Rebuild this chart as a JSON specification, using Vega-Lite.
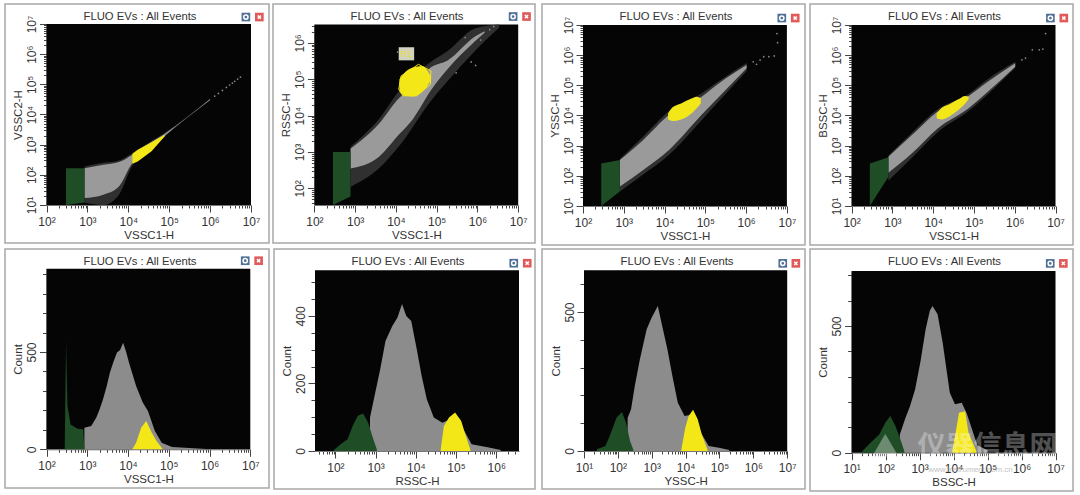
{"$schema":"https://vega.github.io/schema/vega-lite/v6.json","background":"white","padding":{"left":4,"top":3,"right":0,"bottom":0},"spacing":2,"config":{"view":{"stroke":"#a8a8a8","strokeWidth":1.5},"title":{"font":"Liberation Sans","fontSize":11.3,"fontWeight":"normal","color":"#333333","anchor":"middle","offset":-18},"axis":{"labelFont":"Liberation Sans","titleFont":"Liberation Sans","labelFontSize":12,"titleFontSize":11.5,"titleFontWeight":"normal","labelColor":"#333333","titleColor":"#333333","tickColor":"#444444","domainColor":"#777777","grid":false,"labelOverlap":false,"labelFlush":false,"labelPadding":4,"titlePadding":2},"axisY":{"labelAngle":-90,"labelAlign":"center","labelBaseline":"bottom","labelPadding":1,"titlePadding":2}},"vconcat":[{"spacing":5,"hconcat":[{"spacing":2,"hconcat":[
{"width":264,"height":239,"title":{"text":"FLUO EVs : All Events","dx":3},"data":{"values":[{"kind":"bg","x":100,"x2":10000000,"y":10,"y2":10000000},{"kind":"fuzz","x":850,"y":12,"y2":190},{"kind":"fuzz","x":2440,"y":10,"y2":250},{"kind":"fuzz","x":5900,"y":22,"y2":300},{"kind":"fuzz","x":12600,"y":200,"y2":520},{"kind":"fuzz","x":25000,"y":450,"y2":950},{"kind":"fuzz","x":72000,"y":1700,"y2":2300},{"kind":"fuzz","x":1000000,"y":30000,"y2":33000},{"kind":"gray","x":850,"y":17,"y2":166},{"kind":"gray","x":2450,"y":22,"y2":215},{"kind":"gray","x":5900,"y":41,"y2":265},{"kind":"gray","x":12600,"y":245,"y2":466},{"kind":"gray","x":25000,"y":500,"y2":880},{"kind":"gray","x":72000,"y":1800,"y2":2150},{"kind":"gray","x":1000000,"y":30500,"y2":32500},{"kind":"green","x":300,"y":10,"y2":166},{"kind":"green","x":850,"y":12,"y2":166},{"kind":"yellow","x":12600,"y":235,"y2":500},{"kind":"yellow","x":17000,"y":278,"y2":680},{"kind":"yellow","x":37000,"y":600,"y2":1200},{"kind":"yellow","x":78000,"y":1900,"y2":2150},{"kind":"dot","x":1300000,"y":41000},{"kind":"dot","x":1600000,"y":50000},{"kind":"dot","x":2000000,"y":63000},{"kind":"dot","x":2500000,"y":79000},{"kind":"dot","x":3000000,"y":95000},{"kind":"dot","x":3500000,"y":110000},{"kind":"dot","x":4000000,"y":126000},{"kind":"dot","x":4700000,"y":150000},{"kind":"dot","x":5500000,"y":174000},{"kind":"iconB","x":7500000,"y":17000000},{"kind":"iconR","x":16000000,"y":17000000}]},"encoding":{"x":{"field":"x","type":"quantitative","title":"VSSC1-H","scale":{"type":"log","domain":[100,10000000],"range":[41.5,246],"nice":false},"axis":{"offset":-38,"tickCount":60,"labelExpr":"abs(log(datum.value)/LN10-round(log(datum.value)/LN10))<0.001?'10'+['⁰','¹','²','³','⁴','⁵','⁶','⁷'][round(log(datum.value)/LN10)]:''","tickSize":{"condition":{"test":"abs(log(datum.value)/LN10-round(log(datum.value)/LN10))<0.001","value":7},"value":3}}},"y":{"field":"y","type":"quantitative","stack":null,"title":"VSSC2-H","scale":{"type":"log","domain":[10,10000000],"range":[201,20],"nice":false},"axis":{"offset":-41.5,"tickCount":60,"labelExpr":"abs(log(datum.value)/LN10-round(log(datum.value)/LN10))<0.001?'10'+['⁰','¹','²','³','⁴','⁵','⁶','⁷'][round(log(datum.value)/LN10)]:''","tickSize":{"condition":{"test":"abs(log(datum.value)/LN10-round(log(datum.value)/LN10))<0.001","value":7},"value":3}}}},"layer":[{"transform":[{"filter":"datum.kind=='bg'"}],"mark":{"type":"rect","color":"#050505"},"encoding":{"x2":{"field":"x2"},"y2":{"field":"y2"}}},{"transform":[{"filter":"datum.kind=='fuzz'"}],"mark":{"type":"area","orient":"vertical","interpolate":"monotone","color":"#303030"},"encoding":{"y2":{"field":"y2"}}},{"transform":[{"filter":"datum.kind=='gray'"}],"mark":{"type":"area","orient":"vertical","interpolate":"monotone","color":"#9a9a9a"},"encoding":{"y2":{"field":"y2"}}},{"transform":[{"filter":"datum.kind=='green'"}],"mark":{"type":"area","orient":"vertical","color":"#1e4d26"},"encoding":{"y2":{"field":"y2"}}},{"transform":[{"filter":"datum.kind=='yellow'"}],"mark":{"type":"area","orient":"vertical","color":"#f4e718"},"encoding":{"y2":{"field":"y2"}}},{"transform":[{"filter":"datum.kind=='dot'"}],"mark":{"type":"point","filled":true,"size":3,"color":"#8a8a8a","opacity":1}},{"transform":[{"filter":"datum.kind=='iconB'"}],"mark":{"type":"point","shape":"square","filled":true,"size":75,"color":"#4f6f96","opacity":1}},{"transform":[{"filter":"datum.kind=='iconB'"}],"mark":{"type":"point","shape":"circle","filled":false,"size":18,"color":"white","strokeWidth":1.5,"opacity":1}},{"transform":[{"filter":"datum.kind=='iconR'"}],"mark":{"type":"point","shape":"square","filled":true,"size":75,"color":"#e05a5a","opacity":1}},{"transform":[{"filter":"datum.kind=='iconR'"}],"mark":{"type":"point","shape":"M-1,-1L1,1M-1,1L1,-1","filled":false,"size":10,"color":"white","strokeWidth":1.5,"opacity":1}}]},
{"width":262,"height":239,"title":{"text":"FLUO EVs : All Events","dx":3},"data":{"values":[{"kind":"bg","x":100,"x2":10000000,"y":35,"y2":3200000},{"kind":"fuzz","x":770,"y":110,"y2":1400},{"kind":"fuzz","x":3800,"y":350,"y2":8000},{"kind":"fuzz","x":12300,"y":1500,"y2":50000},{"kind":"fuzz","x":71000,"y":25000,"y2":300000},{"kind":"fuzz","x":186000,"y":90000,"y2":600000},{"kind":"fuzz","x":870000,"y":600000,"y2":2500000},{"kind":"fuzz","x":3400000,"y":2600000,"y2":3200000},{"kind":"gray","x":770,"y":350,"y2":1230},{"kind":"gray","x":3800,"y":730,"y2":5900},{"kind":"gray","x":12300,"y":3160,"y2":31600},{"kind":"gray","x":26000,"y":8000,"y2":60000},{"kind":"gray","x":71000,"y":48000,"y2":210000},{"kind":"gray","x":186000,"y":190000,"y2":330000},{"kind":"gray","x":870000,"y":1100000,"y2":1500000},{"kind":"gray","x":1500000,"y":1900000,"y2":2100000},{"kind":"green","x":286,"y":35,"y2":1000},{"kind":"green","x":770,"y":60,"y2":1000},{"kind":"yellow","x":12200,"y":48000,"y2":100000},{"kind":"yellow","x":16300,"y":35000,"y2":151000},{"kind":"yellow","x":26500,"y":33700,"y2":209000},{"kind":"yellow","x":43000,"y":43900,"y2":230000},{"kind":"yellow","x":57000,"y":62000,"y2":186000},{"kind":"yellow","x":70000,"y":89000,"y2":123000},{"kind":"gate","o":1,"x":13400,"y":123000},{"kind":"gate","o":2,"x":35700,"y":257000},{"kind":"gate","o":3,"x":72000,"y":170000},{"kind":"gate","o":4,"x":70000,"y":72000},{"kind":"gate","o":5,"x":32400,"y":35100},{"kind":"gate","o":6,"x":14800,"y":35100},{"kind":"gate","o":7,"x":11700,"y":53000},{"kind":"gate","o":8,"x":13400,"y":123000},{"kind":"box","x":11700,"x2":28000,"y":331000,"y2":759000},{"kind":"boxtext","x":18100,"y":500000,"label":"R1"},{"kind":"dot","x":2000000,"y":2300000},{"kind":"dot","x":2500000,"y":2800000},{"kind":"dot","x":1200000,"y":1200000},{"kind":"dot","x":500000,"y":1400000},{"kind":"dot","x":300000,"y":150000},{"kind":"dot","x":700000,"y":300000},{"kind":"dot","x":11000,"y":560000},{"kind":"dot","x":900000,"y":240000},{"kind":"iconB","x":7500000,"y":5300000},{"kind":"iconR","x":16000000,"y":5300000}]},"encoding":{"x":{"field":"x","type":"quantitative","title":"VSSC1-H","scale":{"type":"log","domain":[100,10000000],"range":[41.4,245.2],"nice":false},"axis":{"offset":-38,"tickCount":60,"labelExpr":"abs(log(datum.value)/LN10-round(log(datum.value)/LN10))<0.001?'10'+['⁰','¹','²','³','⁴','⁵','⁶','⁷'][round(log(datum.value)/LN10)]:''","tickSize":{"condition":{"test":"abs(log(datum.value)/LN10-round(log(datum.value)/LN10))<0.001","value":7},"value":3}}},"y":{"field":"y","type":"quantitative","stack":null,"title":"RSSC-H","scale":{"type":"log","domain":[35,3200000],"range":[201,20.5],"nice":false},"axis":{"offset":-41.4,"tickCount":60,"labelExpr":"abs(log(datum.value)/LN10-round(log(datum.value)/LN10))<0.001?'10'+['⁰','¹','²','³','⁴','⁵','⁶','⁷'][round(log(datum.value)/LN10)]:''","tickSize":{"condition":{"test":"abs(log(datum.value)/LN10-round(log(datum.value)/LN10))<0.001","value":7},"value":3}}}},"layer":[{"transform":[{"filter":"datum.kind=='bg'"}],"mark":{"type":"rect","color":"#050505"},"encoding":{"x2":{"field":"x2"},"y2":{"field":"y2"}}},{"transform":[{"filter":"datum.kind=='fuzz'"}],"mark":{"type":"area","orient":"vertical","interpolate":"monotone","color":"#303030"},"encoding":{"y2":{"field":"y2"}}},{"transform":[{"filter":"datum.kind=='gray'"}],"mark":{"type":"area","orient":"vertical","interpolate":"monotone","color":"#9a9a9a"},"encoding":{"y2":{"field":"y2"}}},{"transform":[{"filter":"datum.kind=='green'"}],"mark":{"type":"area","orient":"vertical","color":"#1e4d26"},"encoding":{"y2":{"field":"y2"}}},{"transform":[{"filter":"datum.kind=='yellow'"}],"mark":{"type":"area","orient":"vertical","interpolate":"monotone","color":"#f4e718"},"encoding":{"y2":{"field":"y2"}}},{"transform":[{"filter":"datum.kind=='gate'"}],"mark":{"type":"line","color":"#f4e718","strokeWidth":1},"encoding":{"order":{"field":"o"}}},{"transform":[{"filter":"datum.kind=='box'"}],"mark":{"type":"rect","color":"#d2d2c0"},"encoding":{"x2":{"field":"x2"},"y2":{"field":"y2"}}},{"transform":[{"filter":"datum.kind=='boxtext'"}],"mark":{"type":"text","color":"#e8e030","fontSize":9,"font":"Liberation Sans"},"encoding":{"text":{"field":"label"}}},{"transform":[{"filter":"datum.kind=='dot'"}],"mark":{"type":"point","filled":true,"size":3,"color":"#8a8a8a","opacity":1}},{"transform":[{"filter":"datum.kind=='iconB'"}],"mark":{"type":"point","shape":"square","filled":true,"size":75,"color":"#4f6f96","opacity":1}},{"transform":[{"filter":"datum.kind=='iconB'"}],"mark":{"type":"point","shape":"circle","filled":false,"size":18,"color":"white","strokeWidth":1.5,"opacity":1}},{"transform":[{"filter":"datum.kind=='iconR'"}],"mark":{"type":"point","shape":"square","filled":true,"size":75,"color":"#e05a5a","opacity":1}},{"transform":[{"filter":"datum.kind=='iconR'"}],"mark":{"type":"point","shape":"M-1,-1L1,1M-1,1L1,-1","filled":false,"size":10,"color":"white","strokeWidth":1.5,"opacity":1}}]}
]},{"spacing":3,"hconcat":[
{"width":263,"height":241,"title":{"text":"FLUO EVs : All Events","dx":2.5},"data":{"values":[{"kind":"bg","x":100,"x2":10000000,"y":10,"y2":10000000},{"kind":"fuzz","x":800,"y":30,"y2":360},{"kind":"fuzz","x":3000,"y":110,"y2":2000},{"kind":"fuzz","x":12900,"y":500,"y2":14000},{"kind":"fuzz","x":81000,"y":7000,"y2":55000},{"kind":"fuzz","x":217000,"y":30000,"y2":140000},{"kind":"fuzz","x":1030000,"y":300000,"y2":550000},{"kind":"gray","x":800,"y":44,"y2":335},{"kind":"gray","x":3000,"y":156,"y2":1550},{"kind":"gray","x":12900,"y":720,"y2":10500},{"kind":"gray","x":81000,"y":10500,"y2":41700},{"kind":"gray","x":217000,"y":41700,"y2":117000},{"kind":"gray","x":1030000,"y":366000,"y2":470000},{"kind":"green","x":280,"y":10,"y2":258},{"kind":"green","x":800,"y":30,"y2":335},{"kind":"yellow","x":12200,"y":7400,"y2":11700},{"kind":"yellow","x":15700,"y":6600,"y2":18600},{"kind":"yellow","x":25500,"y":7400,"y2":25100},{"kind":"yellow","x":45800,"y":11700,"y2":36300},{"kind":"yellow","x":61200,"y":17300,"y2":41700},{"kind":"yellow","x":77400,"y":25100,"y2":37000},{"kind":"dot","x":2200000,"y":690000},{"kind":"dot","x":2700000,"y":890000},{"kind":"dot","x":3600000,"y":890000},{"kind":"dot","x":4900000,"y":940000},{"kind":"dot","x":5900000,"y":2600000},{"kind":"dot","x":5700000,"y":5200000},{"kind":"dot","x":1500000,"y":600000},{"kind":"dot","x":1800000,"y":500000},{"kind":"iconB","x":7500000,"y":17000000},{"kind":"iconR","x":16000000,"y":17000000}]},"encoding":{"x":{"field":"x","type":"quantitative","title":"VSSC1-H","scale":{"type":"log","domain":[100,10000000],"range":[41,244.9],"nice":false},"axis":{"offset":-39,"tickCount":60,"labelExpr":"abs(log(datum.value)/LN10-round(log(datum.value)/LN10))<0.001?'10'+['⁰','¹','²','³','⁴','⁵','⁶','⁷'][round(log(datum.value)/LN10)]:''","tickSize":{"condition":{"test":"abs(log(datum.value)/LN10-round(log(datum.value)/LN10))<0.001","value":7},"value":3}}},"y":{"field":"y","type":"quantitative","stack":null,"title":"YSSC-H","scale":{"type":"log","domain":[10,10000000],"range":[202,21],"nice":false},"axis":{"offset":-41,"tickCount":60,"labelExpr":"abs(log(datum.value)/LN10-round(log(datum.value)/LN10))<0.001?'10'+['⁰','¹','²','³','⁴','⁵','⁶','⁷'][round(log(datum.value)/LN10)]:''","tickSize":{"condition":{"test":"abs(log(datum.value)/LN10-round(log(datum.value)/LN10))<0.001","value":7},"value":3}}}},"layer":[{"transform":[{"filter":"datum.kind=='bg'"}],"mark":{"type":"rect","color":"#050505"},"encoding":{"x2":{"field":"x2"},"y2":{"field":"y2"}}},{"transform":[{"filter":"datum.kind=='fuzz'"}],"mark":{"type":"area","orient":"vertical","interpolate":"monotone","color":"#303030"},"encoding":{"y2":{"field":"y2"}}},{"transform":[{"filter":"datum.kind=='gray'"}],"mark":{"type":"area","orient":"vertical","interpolate":"monotone","color":"#9a9a9a"},"encoding":{"y2":{"field":"y2"}}},{"transform":[{"filter":"datum.kind=='green'"}],"mark":{"type":"area","orient":"vertical","color":"#1e4d26"},"encoding":{"y2":{"field":"y2"}}},{"transform":[{"filter":"datum.kind=='yellow'"}],"mark":{"type":"area","orient":"vertical","interpolate":"monotone","color":"#f4e718"},"encoding":{"y2":{"field":"y2"}}},{"transform":[{"filter":"datum.kind=='dot'"}],"mark":{"type":"point","filled":true,"size":3,"color":"#8a8a8a","opacity":1}},{"transform":[{"filter":"datum.kind=='iconB'"}],"mark":{"type":"point","shape":"square","filled":true,"size":75,"color":"#4f6f96","opacity":1}},{"transform":[{"filter":"datum.kind=='iconB'"}],"mark":{"type":"point","shape":"circle","filled":false,"size":18,"color":"white","strokeWidth":1.5,"opacity":1}},{"transform":[{"filter":"datum.kind=='iconR'"}],"mark":{"type":"point","shape":"square","filled":true,"size":75,"color":"#e05a5a","opacity":1}},{"transform":[{"filter":"datum.kind=='iconR'"}],"mark":{"type":"point","shape":"M-1,-1L1,1M-1,1L1,-1","filled":false,"size":10,"color":"white","strokeWidth":1.5,"opacity":1}}]},
{"width":263,"height":241,"title":{"text":"FLUO EVs : All Events","dx":3},"data":{"values":[{"kind":"bg","x":100,"x2":10000000,"y":10,"y2":10000000},{"kind":"fuzz","x":800,"y":70,"y2":470},{"kind":"fuzz","x":3020,"y":400,"y2":2700},{"kind":"fuzz","x":12900,"y":2800,"y2":16000},{"kind":"fuzz","x":74000,"y":14000,"y2":52000},{"kind":"fuzz","x":218000,"y":50000,"y2":160000},{"kind":"fuzz","x":1030000,"y":380000,"y2":600000},{"kind":"gray","x":800,"y":126,"y2":430},{"kind":"gray","x":3020,"y":560,"y2":2240},{"kind":"gray","x":12900,"y":3700,"y2":13500},{"kind":"gray","x":74000,"y":17300,"y2":44700},{"kind":"gray","x":218000,"y":61000,"y2":132000},{"kind":"gray","x":1030000,"y":417000,"y2":537000},{"kind":"green","x":280,"y":10,"y2":258},{"kind":"green","x":800,"y":94,"y2":410},{"kind":"yellow","x":12200,"y":8050,"y2":11700},{"kind":"yellow","x":15700,"y":7400,"y2":17300},{"kind":"yellow","x":25500,"y":9500,"y2":24000},{"kind":"yellow","x":41500,"y":15100,"y2":34400},{"kind":"yellow","x":61200,"y":25100,"y2":44700},{"kind":"yellow","x":74000,"y":34400,"y2":41700},{"kind":"dot","x":1840000,"y":800000},{"kind":"dot","x":2700000,"y":1500000},{"kind":"dot","x":4000000,"y":1500000},{"kind":"dot","x":4900000,"y":1600000},{"kind":"dot","x":5700000,"y":5200000},{"kind":"dot","x":1500000,"y":700000},{"kind":"iconB","x":7500000,"y":17000000},{"kind":"iconR","x":16000000,"y":17000000}]},"encoding":{"x":{"field":"x","type":"quantitative","title":"VSSC1-H","scale":{"type":"log","domain":[100,10000000],"range":[41.6,245.5],"nice":false},"axis":{"offset":-39,"tickCount":60,"labelExpr":"abs(log(datum.value)/LN10-round(log(datum.value)/LN10))<0.001?'10'+['⁰','¹','²','³','⁴','⁵','⁶','⁷'][round(log(datum.value)/LN10)]:''","tickSize":{"condition":{"test":"abs(log(datum.value)/LN10-round(log(datum.value)/LN10))<0.001","value":7},"value":3}}},"y":{"field":"y","type":"quantitative","stack":null,"title":"BSSC-H","scale":{"type":"log","domain":[10,10000000],"range":[202,21],"nice":false},"axis":{"offset":-41.6,"tickCount":60,"labelExpr":"abs(log(datum.value)/LN10-round(log(datum.value)/LN10))<0.001?'10'+['⁰','¹','²','³','⁴','⁵','⁶','⁷'][round(log(datum.value)/LN10)]:''","tickSize":{"condition":{"test":"abs(log(datum.value)/LN10-round(log(datum.value)/LN10))<0.001","value":7},"value":3}}}},"layer":[{"transform":[{"filter":"datum.kind=='bg'"}],"mark":{"type":"rect","color":"#050505"},"encoding":{"x2":{"field":"x2"},"y2":{"field":"y2"}}},{"transform":[{"filter":"datum.kind=='fuzz'"}],"mark":{"type":"area","orient":"vertical","interpolate":"monotone","color":"#303030"},"encoding":{"y2":{"field":"y2"}}},{"transform":[{"filter":"datum.kind=='gray'"}],"mark":{"type":"area","orient":"vertical","interpolate":"monotone","color":"#9a9a9a"},"encoding":{"y2":{"field":"y2"}}},{"transform":[{"filter":"datum.kind=='green'"}],"mark":{"type":"area","orient":"vertical","color":"#1e4d26"},"encoding":{"y2":{"field":"y2"}}},{"transform":[{"filter":"datum.kind=='yellow'"}],"mark":{"type":"area","orient":"vertical","interpolate":"monotone","color":"#f4e718"},"encoding":{"y2":{"field":"y2"}}},{"transform":[{"filter":"datum.kind=='dot'"}],"mark":{"type":"point","filled":true,"size":3,"color":"#8a8a8a","opacity":1}},{"transform":[{"filter":"datum.kind=='iconB'"}],"mark":{"type":"point","shape":"square","filled":true,"size":75,"color":"#4f6f96","opacity":1}},{"transform":[{"filter":"datum.kind=='iconB'"}],"mark":{"type":"point","shape":"circle","filled":false,"size":18,"color":"white","strokeWidth":1.5,"opacity":1}},{"transform":[{"filter":"datum.kind=='iconR'"}],"mark":{"type":"point","shape":"square","filled":true,"size":75,"color":"#e05a5a","opacity":1}},{"transform":[{"filter":"datum.kind=='iconR'"}],"mark":{"type":"point","shape":"M-1,-1L1,1M-1,1L1,-1","filled":false,"size":10,"color":"white","strokeWidth":1.5,"opacity":1}}]}
]}]},
{"spacing":5,"hconcat":[{"spacing":3,"hconcat":[
{"width":264,"height":239,"title":{"text":"FLUO EVs : All Events","dx":3},"data":{"values":[{"kind":"bg","x":100,"x2":10000000,"y":0,"y2":928},{"kind":"green","x":280,"y":0},{"kind":"green","x":302,"y":556},{"kind":"green","x":327,"y":222},{"kind":"green","x":390,"y":128},{"kind":"green","x":575,"y":106},{"kind":"green","x":794,"y":103},{"kind":"green","x":850,"y":0},{"kind":"gray","x":850,"y":111},{"kind":"gray","x":1250,"y":120},{"kind":"gray","x":1670,"y":163},{"kind":"gray","x":2000,"y":205},{"kind":"gray","x":2440,"y":257},{"kind":"gray","x":3000,"y":325},{"kind":"gray","x":3600,"y":394},{"kind":"gray","x":4400,"y":450},{"kind":"gray","x":5350,"y":497},{"kind":"gray","x":6400,"y":510},{"kind":"gray","x":7600,"y":548},{"kind":"gray","x":9000,"y":500},{"kind":"gray","x":10600,"y":445},{"kind":"gray","x":12900,"y":385},{"kind":"gray","x":15800,"y":325},{"kind":"gray","x":23000,"y":240},{"kind":"gray","x":30800,"y":197},{"kind":"gray","x":45600,"y":94},{"kind":"gray","x":67000,"y":34},{"kind":"gray","x":120000,"y":12},{"kind":"gray","x":318000,"y":7},{"kind":"gray","x":845000,"y":2},{"kind":"yellow","x":12900,"y":3},{"kind":"yellow","x":15800,"y":34},{"kind":"yellow","x":21000,"y":111},{"kind":"yellow","x":28000,"y":145},{"kind":"yellow","x":38000,"y":86},{"kind":"yellow","x":50000,"y":43},{"kind":"yellow","x":70000,"y":3},{"kind":"iconB","x":7500000,"y":969},{"kind":"iconR","x":16000000,"y":969}]},"encoding":{"x":{"field":"x","type":"quantitative","title":"VSSC1-H","scale":{"type":"log","domain":[100,10000000],"range":[41.5,245.3],"nice":false},"axis":{"offset":-38.7,"tickCount":60,"labelExpr":"abs(log(datum.value)/LN10-round(log(datum.value)/LN10))<0.001?'10'+['⁰','¹','²','³','⁴','⁵','⁶','⁷'][round(log(datum.value)/LN10)]:''","tickSize":{"condition":{"test":"abs(log(datum.value)/LN10-round(log(datum.value)/LN10))<0.001","value":7},"value":3}}},"y":{"field":"y","type":"quantitative","stack":null,"title":"Count","scale":{"domain":[0,928],"range":[200.3,19.7],"nice":false},"axis":{"offset":-41.5,"values":[0,100,200,300,400,500,600,700,800,900],"labelExpr":"datum.value%500==0?datum.label:''","tickSize":{"condition":{"test":"datum.value%500==0","value":7},"value":4}}}},"layer":[{"transform":[{"filter":"datum.kind=='bg'"}],"mark":{"type":"rect","color":"#050505"},"encoding":{"x2":{"field":"x2"},"y2":{"field":"y2"}}},{"transform":[{"filter":"datum.kind=='gray'"}],"mark":{"type":"area","orient":"vertical","color":"#8c8c8c"}},{"transform":[{"filter":"datum.kind=='green'"}],"mark":{"type":"area","orient":"vertical","color":"#1e4d26"}},{"transform":[{"filter":"datum.kind=='yellow'"}],"mark":{"type":"area","orient":"vertical","color":"#f4e718"}},{"transform":[{"filter":"datum.kind=='iconB'"}],"mark":{"type":"point","shape":"square","filled":true,"size":75,"color":"#4f6f96","opacity":1}},{"transform":[{"filter":"datum.kind=='iconB'"}],"mark":{"type":"point","shape":"circle","filled":false,"size":18,"color":"white","strokeWidth":1.5,"opacity":1}},{"transform":[{"filter":"datum.kind=='iconR'"}],"mark":{"type":"point","shape":"square","filled":true,"size":75,"color":"#e05a5a","opacity":1}},{"transform":[{"filter":"datum.kind=='iconR'"}],"mark":{"type":"point","shape":"M-1,-1L1,1M-1,1L1,-1","filled":false,"size":10,"color":"white","strokeWidth":1.5,"opacity":1}}]},
{"width":261,"height":240,"title":{"text":"FLUO EVs : All Events","dx":3.5},"data":{"values":[{"kind":"bg","x":31,"x2":3700000,"y":0,"y2":535},{"kind":"green","x":91,"y":3},{"kind":"green","x":134,"y":20},{"kind":"green","x":200,"y":35},{"kind":"green","x":268,"y":74},{"kind":"green","x":360,"y":104},{"kind":"green","x":488,"y":111},{"kind":"green","x":654,"y":84},{"kind":"green","x":876,"y":35},{"kind":"green","x":1070,"y":5},{"kind":"gray","x":720,"y":0},{"kind":"gray","x":725,"y":99},{"kind":"gray","x":980,"y":173},{"kind":"gray","x":1300,"y":242},{"kind":"gray","x":1760,"y":326},{"kind":"gray","x":2600,"y":370},{"kind":"gray","x":3500,"y":395},{"kind":"gray","x":4540,"y":435},{"kind":"gray","x":5800,"y":400},{"kind":"gray","x":7700,"y":385},{"kind":"gray","x":10400,"y":306},{"kind":"gray","x":14000,"y":222},{"kind":"gray","x":18800,"y":153},{"kind":"gray","x":28000,"y":99},{"kind":"gray","x":46000,"y":84},{"kind":"gray","x":91000,"y":100},{"kind":"gray","x":160000,"y":60},{"kind":"gray","x":245000,"y":20},{"kind":"gray","x":660000,"y":10},{"kind":"gray","x":1300000,"y":3},{"kind":"yellow","x":41700,"y":5},{"kind":"yellow","x":50000,"y":74},{"kind":"yellow","x":67000,"y":99},{"kind":"yellow","x":95000,"y":114},{"kind":"yellow","x":135000,"y":89},{"kind":"yellow","x":166000,"y":54},{"kind":"yellow","x":229000,"y":3},{"kind":"iconB","x":2740000,"y":556},{"kind":"iconR","x":5930000,"y":556}]},"encoding":{"x":{"field":"x","type":"quantitative","title":"RSSC-H","scale":{"type":"log","domain":[31,3700000],"range":[41,245],"nice":false},"axis":{"offset":-38,"tickCount":60,"labelExpr":"abs(log(datum.value)/LN10-round(log(datum.value)/LN10))<0.001?'10'+['⁰','¹','²','³','⁴','⁵','⁶','⁷'][round(log(datum.value)/LN10)]:''","tickSize":{"condition":{"test":"abs(log(datum.value)/LN10-round(log(datum.value)/LN10))<0.001","value":7},"value":3}}},"y":{"field":"y","type":"quantitative","stack":null,"title":"Count","scale":{"domain":[0,535],"range":[202,21.3],"nice":false},"axis":{"offset":-41,"values":[0,50,100,150,200,250,300,350,400,450,500],"labelExpr":"datum.value%200==0?datum.label:''","tickSize":{"condition":{"test":"datum.value%200==0","value":7},"value":4}}}},"layer":[{"transform":[{"filter":"datum.kind=='bg'"}],"mark":{"type":"rect","color":"#050505"},"encoding":{"x2":{"field":"x2"},"y2":{"field":"y2"}}},{"transform":[{"filter":"datum.kind=='gray'"}],"mark":{"type":"area","orient":"vertical","color":"#8c8c8c"}},{"transform":[{"filter":"datum.kind=='green'"}],"mark":{"type":"area","orient":"vertical","color":"#1e4d26"}},{"transform":[{"filter":"datum.kind=='yellow'"}],"mark":{"type":"area","orient":"vertical","color":"#f4e718"}},{"transform":[{"filter":"datum.kind=='iconB'"}],"mark":{"type":"point","shape":"square","filled":true,"size":75,"color":"#4f6f96","opacity":1}},{"transform":[{"filter":"datum.kind=='iconB'"}],"mark":{"type":"point","shape":"circle","filled":false,"size":18,"color":"white","strokeWidth":1.5,"opacity":1}},{"transform":[{"filter":"datum.kind=='iconR'"}],"mark":{"type":"point","shape":"square","filled":true,"size":75,"color":"#e05a5a","opacity":1}},{"transform":[{"filter":"datum.kind=='iconR'"}],"mark":{"type":"point","shape":"M-1,-1L1,1M-1,1L1,-1","filled":false,"size":10,"color":"white","strokeWidth":1.5,"opacity":1}}]}
]},{"spacing":3,"hconcat":[
{"width":263,"height":240,"title":{"text":"FLUO EVs : All Events","dx":3.5},"data":{"values":[{"kind":"bg","x":10,"x2":10000000,"y":0,"y2":650},{"kind":"green","x":24,"y":6},{"kind":"green","x":43,"y":18},{"kind":"green","x":60,"y":60},{"kind":"green","x":91,"y":120},{"kind":"green","x":132,"y":140},{"kind":"green","x":174,"y":102},{"kind":"green","x":229,"y":36},{"kind":"green","x":288,"y":4},{"kind":"gray","x":190,"y":0},{"kind":"gray","x":195,"y":120},{"kind":"gray","x":245,"y":150},{"kind":"gray","x":316,"y":234},{"kind":"gray","x":447,"y":330},{"kind":"gray","x":708,"y":438},{"kind":"gray","x":1000,"y":480},{"kind":"gray","x":1510,"y":522},{"kind":"gray","x":2040,"y":450},{"kind":"gray","x":2900,"y":366},{"kind":"gray","x":4070,"y":270},{"kind":"gray","x":5890,"y":174},{"kind":"gray","x":9330,"y":126},{"kind":"gray","x":14800,"y":130},{"kind":"gray","x":30000,"y":60},{"kind":"gray","x":47900,"y":18},{"kind":"gray","x":97000,"y":12},{"kind":"gray","x":195000,"y":4},{"kind":"yellow","x":7400,"y":2},{"kind":"yellow","x":9770,"y":84},{"kind":"yellow","x":12300,"y":126},{"kind":"yellow","x":16600,"y":148},{"kind":"yellow","x":22800,"y":114},{"kind":"yellow","x":30000,"y":60},{"kind":"yellow","x":44700,"y":4},{"kind":"iconB","x":7400000,"y":675},{"kind":"iconR","x":18000000,"y":675}]},"encoding":{"x":{"field":"x","type":"quantitative","title":"YSSC-H","scale":{"type":"log","domain":[10,10000000],"range":[42,245.2],"nice":false},"axis":{"offset":-38,"tickCount":70,"labelExpr":"abs(log(datum.value)/LN10-round(log(datum.value)/LN10))<0.001?'10'+['⁰','¹','²','³','⁴','⁵','⁶','⁷'][round(log(datum.value)/LN10)]:''","tickSize":{"condition":{"test":"abs(log(datum.value)/LN10-round(log(datum.value)/LN10))<0.001","value":7},"value":3}}},"y":{"field":"y","type":"quantitative","stack":null,"title":"Count","scale":{"domain":[0,650],"range":[202,21.3],"nice":false},"axis":{"offset":-42,"values":[0,100,200,300,400,500,600],"labelExpr":"datum.value%500==0?datum.label:''","tickSize":{"condition":{"test":"datum.value%500==0","value":7},"value":4}}}},"layer":[{"transform":[{"filter":"datum.kind=='bg'"}],"mark":{"type":"rect","color":"#050505"},"encoding":{"x2":{"field":"x2"},"y2":{"field":"y2"}}},{"transform":[{"filter":"datum.kind=='gray'"}],"mark":{"type":"area","orient":"vertical","color":"#8c8c8c"}},{"transform":[{"filter":"datum.kind=='green'"}],"mark":{"type":"area","orient":"vertical","color":"#1e4d26"}},{"transform":[{"filter":"datum.kind=='yellow'"}],"mark":{"type":"area","orient":"vertical","color":"#f4e718"}},{"transform":[{"filter":"datum.kind=='iconB'"}],"mark":{"type":"point","shape":"square","filled":true,"size":75,"color":"#4f6f96","opacity":1}},{"transform":[{"filter":"datum.kind=='iconB'"}],"mark":{"type":"point","shape":"circle","filled":false,"size":18,"color":"white","strokeWidth":1.5,"opacity":1}},{"transform":[{"filter":"datum.kind=='iconR'"}],"mark":{"type":"point","shape":"square","filled":true,"size":75,"color":"#e05a5a","opacity":1}},{"transform":[{"filter":"datum.kind=='iconR'"}],"mark":{"type":"point","shape":"M-1,-1L1,1M-1,1L1,-1","filled":false,"size":10,"color":"white","strokeWidth":1.5,"opacity":1}}]},
{"width":263,"height":242,"title":{"text":"FLUO EVs : All Events","dx":3},"data":{"values":[{"kind":"bg","x":10,"x2":10000000,"y":0,"y2":717},{"kind":"green","x":20,"y":4},{"kind":"green","x":36,"y":39},{"kind":"green","x":65,"y":72},{"kind":"green","x":98,"y":118},{"kind":"green","x":138,"y":145},{"kind":"green","x":195,"y":105},{"kind":"green","x":263,"y":59},{"kind":"green","x":355,"y":7},{"kind":"gray","x":255,"y":0},{"kind":"gray","x":263,"y":72},{"kind":"gray","x":372,"y":132},{"kind":"gray","x":525,"y":184},{"kind":"gray","x":741,"y":250},{"kind":"gray","x":1070,"y":362},{"kind":"gray","x":1510,"y":487},{"kind":"gray","x":2000,"y":560},{"kind":"gray","x":2400,"y":579},{"kind":"gray","x":3390,"y":546},{"kind":"gray","x":4790,"y":434},{"kind":"gray","x":7760,"y":237},{"kind":"gray","x":11000,"y":191},{"kind":"gray","x":17400,"y":197},{"kind":"gray","x":24500,"y":155},{"kind":"gray","x":50000,"y":29},{"kind":"gray","x":100000,"y":10},{"kind":"yellow","x":9120,"y":4},{"kind":"yellow","x":11500,"y":79},{"kind":"yellow","x":14500,"y":158},{"kind":"yellow","x":21900,"y":164},{"kind":"yellow","x":27500,"y":79},{"kind":"yellow","x":46800,"y":7},{"kind":"tri","x":98,"y":30},{"kind":"wm","x":100000,"y":20,"label":"仪器信息网"},{"kind":"wm2","x":31600,"y":-68,"label":"www.instrument.com.cn"},{"kind":"iconB","x":7000000,"y":747},{"kind":"iconR","x":17000000,"y":747}]},"encoding":{"x":{"field":"x","type":"quantitative","title":"BSSC-H","scale":{"type":"log","domain":[10,10000000],"range":[41.6,245.5],"nice":false},"axis":{"offset":-38.3,"tickCount":70,"labelExpr":"abs(log(datum.value)/LN10-round(log(datum.value)/LN10))<0.001?'10'+['⁰','¹','²','³','⁴','⁵','⁶','⁷'][round(log(datum.value)/LN10)]:''","tickSize":{"condition":{"test":"abs(log(datum.value)/LN10-round(log(datum.value)/LN10))<0.001","value":7},"value":3}}},"y":{"field":"y","type":"quantitative","stack":null,"title":"Count","scale":{"domain":[0,717],"range":[203.7,22],"nice":false},"axis":{"offset":-41.6,"values":[0,100,200,300,400,500,600,700],"labelExpr":"datum.value%500==0?datum.label:''","tickSize":{"condition":{"test":"datum.value%500==0","value":7},"value":4}}}},"layer":[{"transform":[{"filter":"datum.kind=='bg'"}],"mark":{"type":"rect","color":"#050505"},"encoding":{"x2":{"field":"x2"},"y2":{"field":"y2"}}},{"transform":[{"filter":"datum.kind=='gray'"}],"mark":{"type":"area","orient":"vertical","color":"#8c8c8c"}},{"transform":[{"filter":"datum.kind=='green'"}],"mark":{"type":"area","orient":"vertical","color":"#1e4d26"}},{"transform":[{"filter":"datum.kind=='yellow'"}],"mark":{"type":"area","orient":"vertical","color":"#f4e718"}},{"transform":[{"filter":"datum.kind=='tri'"}],"mark":{"type":"point","shape":"triangle-up","filled":true,"size":700,"color":"white","opacity":0.35}},{"transform":[{"filter":"datum.kind=='wm'"}],"mark":{"type":"text","font":"Noto Sans CJK SC","fontSize":28,"fontWeight":"bold","color":"white","opacity":0.3},"encoding":{"text":{"field":"label"}}},{"transform":[{"filter":"datum.kind=='wm2'"}],"mark":{"type":"text","font":"Liberation Sans","fontSize":8,"color":"#999999","opacity":0.6},"encoding":{"text":{"field":"label"}}},{"transform":[{"filter":"datum.kind=='iconB'"}],"mark":{"type":"point","shape":"square","filled":true,"size":75,"color":"#4f6f96","opacity":1}},{"transform":[{"filter":"datum.kind=='iconB'"}],"mark":{"type":"point","shape":"circle","filled":false,"size":18,"color":"white","strokeWidth":1.5,"opacity":1}},{"transform":[{"filter":"datum.kind=='iconR'"}],"mark":{"type":"point","shape":"square","filled":true,"size":75,"color":"#e05a5a","opacity":1}},{"transform":[{"filter":"datum.kind=='iconR'"}],"mark":{"type":"point","shape":"M-1,-1L1,1M-1,1L1,-1","filled":false,"size":10,"color":"white","strokeWidth":1.5,"opacity":1}}]}
]}]}
]}
